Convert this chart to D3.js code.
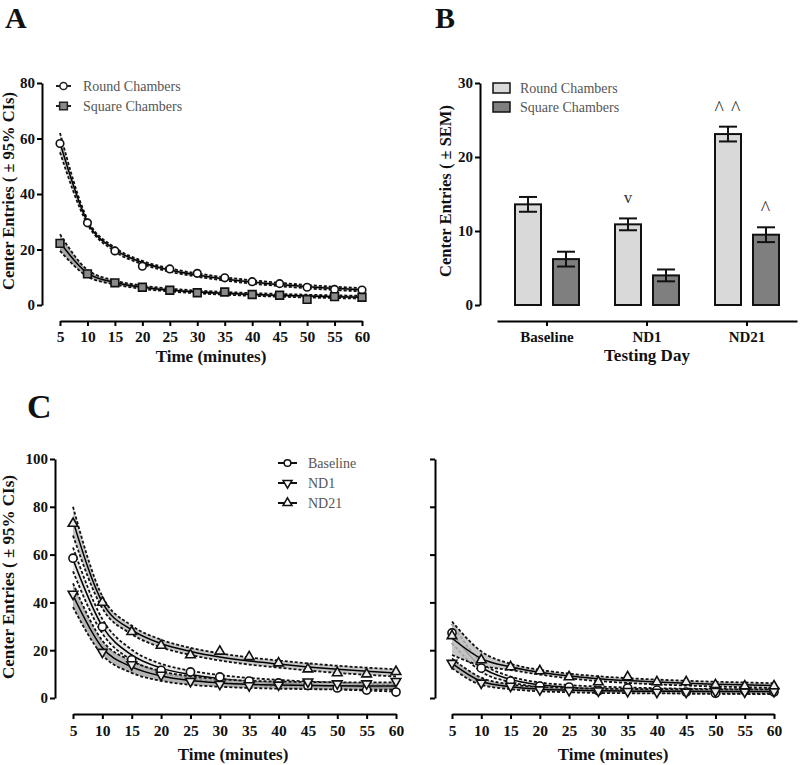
<!DOCTYPE html>
<html><head><meta charset="utf-8">
<script src="https://cdn.jsdelivr.net/npm/d3@7"></script>
<style>body{margin:0;background:#fff}</style>
</head><body>
<svg id="chart" width="800" height="765"></svg>
<script>
// ---------- DATA ----------
const timePoints = [5, 10, 15, 20, 25, 30, 35, 40, 45, 50, 55, 60];

// Panel A: Round vs Square chambers
const roundA      = [58.2, 29.6, 19.5, 14.0, 13.0, 11.4, 9.8, 8.4, 7.7, 6.4, 5.6, 5.4];
const roundAFit   = [58.5, 30.0, 20.0, 15.3, 12.6, 10.8, 9.4, 8.3, 7.4, 6.6, 6.0, 5.5];
const roundACI    = [3.5, 0.9, 0.7, 0.6, 0.6, 0.6, 0.6, 0.6, 0.6, 0.6, 0.6, 0.6];
const squareA     = [22.2, 11.2, 8.0, 6.4, 5.3, 4.4, 4.7, 3.8, 3.5, 2.0, 3.0, 2.8];
const squareAFit  = [22.5, 11.5, 8.1, 6.4, 5.4, 4.7, 4.2, 3.8, 3.5, 3.2, 3.0, 2.8];
const squareACI   = [3.0, 1.2, 0.7, 0.6, 0.5, 0.5, 0.5, 0.5, 0.5, 0.5, 0.5, 0.5];

// Panel B: bar chart
const days         = ["Baseline", "ND1", "ND21"];
const roundBars    = [13.6, 10.9, 23.1];
const roundSEM     = [1.0, 0.8, 1.0];
const squareBars   = [6.2, 4.0, 9.5];
const squareSEM    = [1.0, 0.8, 1.0];
const roundMarks   = ["", "v", "^ ^"];
const squareMarks  = ["", "", "^"];
const barYTicks    = [0, 10, 20, 30];

// Panel C left (round chambers)
const baseL     = [58.5, 29.8, 16.0, 11.6, 10.9, 8.8, 7.1, 6.3, 5.2, 4.2, 3.3, 2.5];
const baseLFit  = [58.0, 30.0, 18.0, 12.5, 9.8, 8.1, 7.0, 6.2, 5.5, 5.0, 4.5, 4.1];
const baseLCI   = [5.0, 3.0, 2.2, 1.8, 1.6, 1.5, 1.4, 1.4, 1.4, 1.4, 1.4, 1.4];
const nd1L      = [43.5, 19.2, 14.0, 9.6, 7.0, 5.8, 5.2, 5.5, 6.8, 6.0, 6.0, 7.0];
const nd1LFit   = [43.0, 21.0, 13.0, 9.2, 7.3, 6.3, 5.7, 5.4, 5.2, 5.1, 5.0, 5.0];
const nd1LCI    = [5.0, 3.0, 2.5, 2.0, 1.8, 1.6, 1.5, 1.5, 1.5, 1.5, 1.5, 1.5];
const nd21L     = [73.0, 40.0, 27.7, 22.0, 18.0, 19.5, 17.2, 14.6, 12.1, 10.5, 10.0, 11.0];
const nd21LFit  = [74.0, 40.0, 28.5, 22.8, 19.5, 17.2, 15.5, 14.2, 13.0, 12.0, 11.2, 10.5];
const nd21LCI   = [6.0, 2.5, 1.8, 1.6, 1.5, 1.5, 1.5, 1.5, 1.5, 1.5, 1.5, 1.5];

// Panel C right (square chambers)
const baseR     = [27.2, 12.5, 7.1, 5.0, 4.6, 3.0, 4.2, 3.3, 2.5, 2.0, 3.0, 2.5];
const baseRFit  = [27.0, 13.0, 7.8, 5.5, 4.4, 3.8, 3.4, 3.1, 2.9, 2.8, 2.7, 2.6];
const baseRCI   = [4.0, 2.0, 1.2, 1.0, 1.0, 1.0, 1.0, 1.0, 1.0, 1.0, 1.0, 1.0];
const nd1R      = [14.6, 6.3, 5.0, 3.5, 3.2, 3.0, 2.8, 2.5, 2.5, 2.8, 2.6, 2.8];
const nd1RFit   = [14.5, 7.0, 4.7, 3.7, 3.3, 3.0, 2.9, 2.8, 2.8, 2.7, 2.7, 2.7];
const nd1RCI    = [2.0, 1.5, 1.0, 0.9, 0.9, 0.9, 0.9, 0.9, 0.9, 0.9, 0.9, 0.9];
const nd21R     = [26.0, 15.9, 13.0, 11.3, 8.8, 6.7, 8.8, 6.7, 6.7, 5.5, 5.0, 5.0];
const nd21RFit  = [25.0, 16.5, 13.0, 10.8, 9.2, 8.1, 7.3, 6.7, 6.2, 5.8, 5.5, 5.2];
const nd21RCI   = [7.0, 3.0, 1.3, 1.0, 1.0, 1.0, 1.0, 1.0, 1.0, 1.0, 1.0, 1.0];

const yTicksA = [0, 20, 40, 60, 80];
const yTicksC = [0, 20, 40, 60, 80, 100];

// ---------- DRAWING ----------
const svg = d3.select('#chart');
const FONT = '"Liberation Serif", "Times New Roman", serif';

function styleAxis(g, fs) {
  g.select('.domain').attr('stroke', '#000').attr('stroke-width', 2);
  g.selectAll('.tick line').attr('stroke', '#000').attr('stroke-width', 2);
  g.selectAll('.tick text').attr('font-family', FONT).attr('font-weight', 'bold')
    .attr('font-size', fs).attr('fill', '#111');
}

function txt(x, y, s, opt = {}) {
  const t = svg.append('text').attr('x', x).attr('y', y).text(s)
    .attr('font-family', FONT)
    .attr('font-size', opt.size || 16)
    .attr('font-weight', opt.bold === false ? 'normal' : 'bold')
    .attr('fill', opt.fill || '#111')
    .attr('text-anchor', opt.anchor || 'start');
  if (opt.rotate) t.attr('transform', `rotate(${opt.rotate},${x},${y})`);
  return t;
}

function markerPath(sym, size) { return d3.symbol(sym, size)(); }

function linePanel(cfg) {
  const x = d3.scaleLinear().domain([5, 60]).range([cfg.x0, cfg.x1]);
  const y = d3.scaleLinear().domain([0, cfg.yMax]).range([cfg.yBottom, cfg.yTop]);
  const g = svg.append('g');
  const ya = d3.axisLeft(y).tickValues(cfg.yTicks).tickSize(5).tickSizeOuter(0).tickPadding(2);
  if (!cfg.yLabels) ya.tickFormat('');
  g.append('g').attr('transform', `translate(${cfg.yAxisX},0)`).call(ya).call(a => styleAxis(a, 15));
  const xa = d3.axisBottom(x).tickValues(timePoints).tickSize(5).tickSizeOuter(0).tickPadding(cfg.xPad);
  g.append('g').attr('transform', `translate(0,${cfg.xAxisY})`).call(xa).call(a => styleAxis(a, 15.5));

  const rowsOf = s => timePoints.map((t, i) => ({
    t, v: s.values[i], f: s.fit[i], lo: s.fit[i] - s.ci[i], hi: s.fit[i] + s.ci[i]
  }));
  cfg.series.forEach(s => {
    const rows = rowsOf(s);
    g.append('path').datum(rows)
      .attr('d', d3.area().x(d => x(d.t)).y0(d => y(d.lo)).y1(d => y(d.hi)).curve(d3.curveMonotoneX))
      .attr('fill', s.band).attr('opacity', 0.85);
    ['lo', 'hi'].forEach(k => g.append('path').datum(rows)
      .attr('d', d3.line().x(d => x(d.t)).y(d => y(d[k])).curve(d3.curveMonotoneX))
      .attr('fill', 'none').attr('stroke', '#111').attr('stroke-width', 1.8).attr('stroke-dasharray', '3,2'));
    g.append('path').datum(rows)
      .attr('d', d3.line().x(d => x(d.t)).y(d => y(d.f)).curve(d3.curveMonotoneX))
      .attr('fill', 'none').attr('stroke', '#000').attr('stroke-width', 1.5);
  });
  cfg.series.forEach(s => {
    g.append('g').selectAll('path').data(rowsOf(s)).join('path')
      .attr('transform', d => `translate(${x(d.t)},${y(d.v)})${s.rot ? ' rotate(180)' : ''}`)
      .attr('d', markerPath(s.sym, s.size))
      .attr('fill', s.fill).attr('stroke', '#111').attr('stroke-width', 1.6);
  });
}

// Panel A
linePanel({
  x0: 60, x1: 362, yTop: 83, yBottom: 305, yMax: 80, yTicks: yTicksA, yLabels: true,
  yAxisX: 42, xAxisY: 321, xPad: 5,
  series: [
    { values: roundA, fit: roundAFit, ci: roundACI, sym: d3.symbolCircle, size: 45, fill: '#fff', band: '#bbb' },
    { values: squareA, fit: squareAFit, ci: squareACI, sym: d3.symbolSquare, size: 60, fill: '#8a8a8a', band: '#999' }
  ]
});
txt(5, 28, 'A', { size: 30 });
txt(211, 362, 'Time (minutes)', { size: 17, anchor: 'middle' });
txt(14, 191, 'Center Entries ( \u00b1 95% CIs)', { size: 16.5, anchor: 'middle', rotate: -90 });
// legend A
[{ label: 'Round Chambers', sym: d3.symbolCircle, size: 40, fill: '#fff', y: 86 },
 { label: 'Square Chambers', sym: d3.symbolSquare, size: 60, fill: '#8a8a8a', y: 106 }].forEach(l => {
  svg.append('line').attr('x1', 56).attr('x2', 71).attr('y1', l.y).attr('y2', l.y).attr('stroke', '#222').attr('stroke-width', 2);
  svg.append('path').attr('transform', `translate(63.5,${l.y})`).attr('d', markerPath(l.sym, l.size))
    .attr('fill', l.fill).attr('stroke', '#222').attr('stroke-width', 1.5);
  txt(83, l.y + 5, l.label, { size: 14, bold: false, fill: '#555' });
});

// Panel B
(function () {
  const x0 = d3.scaleBand().domain(days).range([497, 797]).padding(0);
  const x1 = d3.scaleBand().domain(['Round', 'Square']).range([0, x0.bandwidth()])
    .paddingInner(12 / 38).paddingOuter(18 / 38);
  const y = d3.scaleLinear().domain([0, 30]).range([305, 83]);
  const g = svg.append('g');
  g.append('g').attr('transform', 'translate(480,0)')
    .call(d3.axisLeft(y).tickValues(barYTicks).tickSize(5).tickSizeOuter(0).tickPadding(2))
    .call(a => styleAxis(a, 15));
  g.append('g').attr('transform', 'translate(0,321)')
    .call(d3.axisBottom(x0).tickSize(5).tickSizeOuter(0).tickPadding(5))
    .call(a => styleAxis(a, 15));
  const groups = [
    { key: 'Round', vals: roundBars, sem: roundSEM, marks: roundMarks, fill: '#d9d9d9' },
    { key: 'Square', vals: squareBars, sem: squareSEM, marks: squareMarks, fill: '#7f7f7f' }
  ];
  groups.forEach(gr => {
    days.forEach((d, i) => {
      const bx = x0(d) + x1(gr.key), bw = x1.bandwidth(), cx = bx + bw / 2;
      g.append('rect').attr('x', bx).attr('y', y(gr.vals[i])).attr('width', bw)
        .attr('height', y(0) - y(gr.vals[i])).attr('fill', gr.fill).attr('stroke', '#111').attr('stroke-width', 2);
      const lo = y(gr.vals[i] - gr.sem[i]), hi = y(gr.vals[i] + gr.sem[i]);
      g.append('line').attr('x1', cx).attr('x2', cx).attr('y1', lo).attr('y2', hi).attr('stroke', '#111').attr('stroke-width', 2);
      [lo, hi].forEach(yy => g.append('line').attr('x1', cx - 9).attr('x2', cx + 9).attr('y1', yy).attr('y2', yy)
        .attr('stroke', '#111').attr('stroke-width', 2));
      const m = gr.marks[i];
      if (m) {
        const base = m === 'v' ? hi - 15 : hi - 13;
        txt(cx, m === 'v' ? base : base + 1, m,
          { size: m === 'v' ? 17 : 20, bold: false, anchor: 'middle', fill: '#333' })
          .attr('letter-spacing', m === 'v' ? 0 : 1);
      }
    });
  });
  txt(647, 361, 'Testing Day', { size: 17, anchor: 'middle' });
  txt(451, 191, 'Center Entries ( \u00b1 SEM)', { size: 16.5, anchor: 'middle', rotate: -90 });
  txt(435, 28, 'B', { size: 30 });
  [{ label: 'Round Chambers', fill: '#d9d9d9', y: 88 }, { label: 'Square Chambers', fill: '#7f7f7f', y: 107 }].forEach(l => {
    svg.append('rect').attr('x', 493).attr('y', l.y - 5).attr('width', 17).attr('height', 10)
      .attr('fill', l.fill).attr('stroke', '#111').attr('stroke-width', 1.5);
    txt(520, l.y + 5, l.label, { size: 14, bold: false, fill: '#555' });
  });
})();

// Panel C
const seriesC = (b, bf, bc, n1, n1f, n1c, n21, n21f, n21c) => [
  { values: b, fit: bf, ci: bc, sym: d3.symbolCircle, size: 52, fill: '#fff', band: '#e4e4e4' },
  { values: n1, fit: n1f, ci: n1c, sym: d3.symbolTriangle, size: 40, fill: '#eee', band: '#a8a8a8', rot: true },
  { values: n21, fit: n21f, ci: n21c, sym: d3.symbolTriangle, size: 40, fill: '#eee', band: '#bdbdbd' }
];
linePanel({
  x0: 73, x1: 396, yTop: 459, yBottom: 698, yMax: 100, yTicks: yTicksC, yLabels: true,
  yAxisX: 55, xAxisY: 714, xPad: 6,
  series: seriesC(baseL, baseLFit, baseLCI, nd1L, nd1LFit, nd1LCI, nd21L, nd21LFit, nd21LCI)
});
linePanel({
  x0: 452, x1: 774, yTop: 459, yBottom: 698, yMax: 100, yTicks: yTicksC, yLabels: false,
  yAxisX: 435, xAxisY: 714, xPad: 6,
  series: seriesC(baseR, baseRFit, baseRCI, nd1R, nd1RFit, nd1RCI, nd21R, nd21RFit, nd21RCI)
});
txt(27, 418, 'C', { size: 34 });
txt(233, 760, 'Time (minutes)', { size: 17, anchor: 'middle' });
txt(613, 760, 'Time (minutes)', { size: 17, anchor: 'middle' });
txt(14, 577, 'Center Entries ( \u00b1 95% CIs)', { size: 17, anchor: 'middle', rotate: -90 });
[{ label: 'Baseline', sym: d3.symbolCircle, rot: false, y: 463 },
 { label: 'ND1', sym: d3.symbolTriangle, rot: true, y: 483 },
 { label: 'ND21', sym: d3.symbolTriangle, rot: false, y: 503 }].forEach(l => {
  svg.append('line').attr('x1', 278).attr('x2', 297).attr('y1', l.y).attr('y2', l.y).attr('stroke', '#111').attr('stroke-width', 2);
  svg.append('path').attr('transform', `translate(287.5,${l.y})${l.rot ? ' rotate(180)' : ''}`)
    .attr('d', markerPath(l.sym, 35)).attr('fill', '#fff').attr('stroke', '#111').attr('stroke-width', 1.5);
  txt(308, l.y + 5, l.label, { size: 14, bold: false, fill: '#555' });
});
</script>
</body></html>
